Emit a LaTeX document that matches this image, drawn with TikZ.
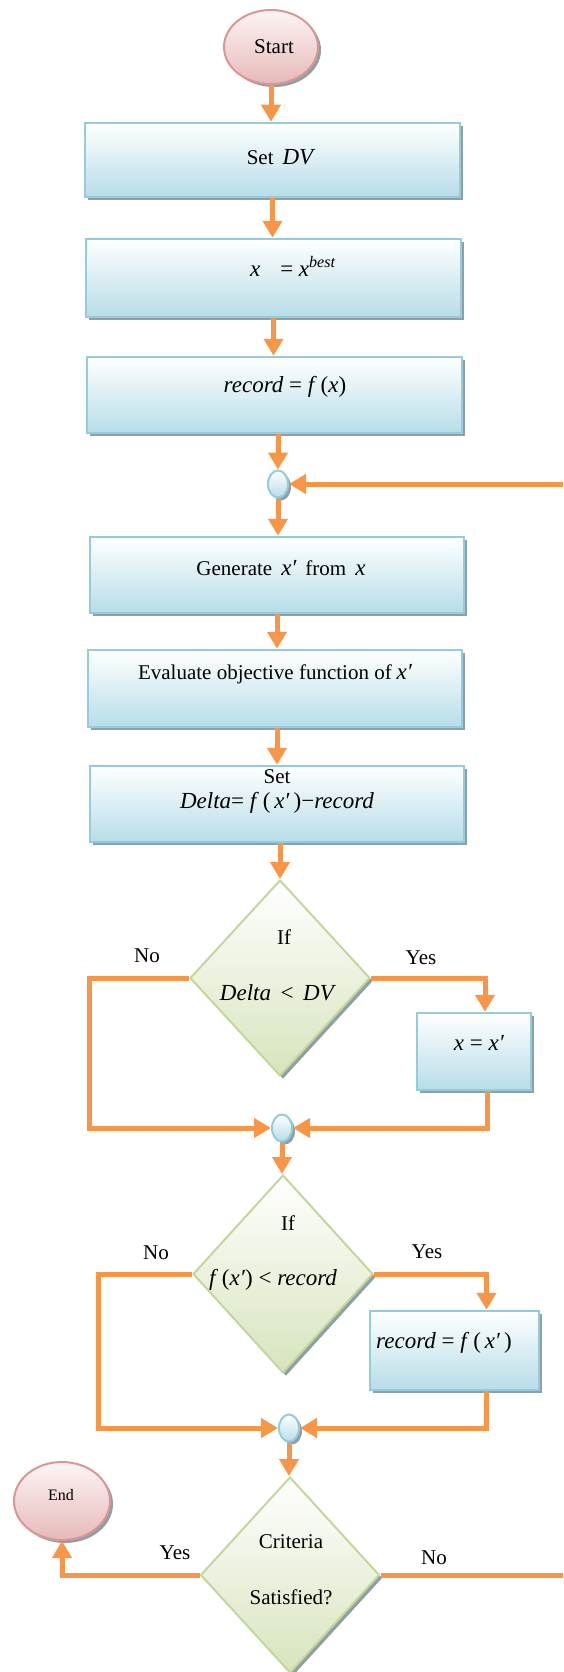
\documentclass[tikz,border=0pt]{standalone}
\usepackage{fontspec}
\setmainfont{Liberation Serif}
\usetikzlibrary{shapes.geometric,arrows.meta,shadows}
\definecolor{connc}{HTML}{F79646}
\definecolor{boxedge}{HTML}{93CDDD}
\definecolor{boxfill}{HTML}{B7DDE8}
\definecolor{dedge}{HTML}{C3D69B}
\definecolor{dfill}{HTML}{D7E4BD}
\definecolor{tedge}{HTML}{D99694}
\definecolor{tfill}{HTML}{E6B9B8}
\definecolor{tfilltop}{HTML}{FDF5F5}
\definecolor{shadowc}{HTML}{8E9FA5}
\newcommand\mvar[1]{{\fontsize{23}{24}\selectfont\itshape #1}}
\tikzset{
  orangeline/.style={draw=connc, line width=5pt, line join=miter},
  arr/.style={orangeline, -{Triangle[width=19pt,length=17pt]}},
  shad/.style={drop shadow={shadow xshift=3pt, shadow yshift=-3pt, fill=shadowc, opacity=1}},
  procbox/.style={rectangle, draw=boxedge, line width=2.5pt, top color=white, bottom color=boxfill, inner sep=0pt, shad},
  decbox/.style={diamond, draw=dedge, line width=2pt, top color=white, bottom color=dfill, inner sep=0pt, shad},
  termbox/.style={ellipse, draw=tedge, line width=2pt, top color=tfilltop, bottom color=tfill, inner sep=0pt, shad},
  joinc/.style={ellipse, draw=boxedge, line width=2pt, top color=white, bottom color=boxfill, minimum width=20pt, minimum height=27pt, inner sep=0pt, shad},
  lbl/.style={font=\fontsize{21}{24}\selectfont, inner sep=0pt},
  mlbl/.style={font=\fontsize{23}{26}\selectfont, inner sep=0pt}
}
\begin{document}
\begin{tikzpicture}[x=1pt,y=-1pt]
\useasboundingbox (0,0) rectangle (563,1672);
% shapes
\node[termbox, minimum width=94pt, minimum height=74pt] (start) at (271,47) {};
\node[procbox, minimum width=375pt, minimum height=74pt] (b1) at (272.5,160) {};
\node[procbox, minimum width=375pt, minimum height=78pt] (b2) at (273.5,278) {};
\node[procbox, minimum width=375pt, minimum height=76pt] (b3) at (274.5,395) {};
\node[joinc] (c1) at (278,484) {};
\node[procbox, minimum width=374pt, minimum height=76pt] (b4) at (277,575) {};
\node[procbox, minimum width=374pt, minimum height=77pt] (b5) at (275,688.5) {};
\node[procbox, minimum width=374pt, minimum height=76pt] (b6) at (277,804) {};
\node[decbox, minimum width=180pt, minimum height=196pt] (d1) at (280,978) {};
\node[procbox, minimum width=114pt, minimum height=77pt] (bA) at (474,1051.5) {};
\node[joinc] (c2) at (282,1128) {};
\node[decbox, minimum width=180pt, minimum height=198pt] (d2) at (283,1274) {};
\node[procbox, minimum width=169pt, minimum height=79pt] (bB) at (454.5,1350.5) {};
\node[joinc] (c3) at (289,1428) {};
\node[decbox, minimum width=179pt, minimum height=196pt] (d3) at (290,1575) {};
\node[termbox, minimum width=96pt, minimum height=78pt] (end) at (62,1501) {};
% texts
\node[lbl] (tstart) at (274,47) {Start};
\node[lbl] (t1) at (280,157) {Set\hspace{9pt}\mvar{DV}};
\node[mlbl] (t2) at (293,266) {\textit{x}\hspace{20pt}= \textit{x}\textsuperscript{\textit{best}}};
\node[mlbl] (t3) at (285,387) {\textit{record} = \textit{f}\,(\textit{x})};
\node[lbl] (t4) at (281,568) {Generate\hspace{9pt}\mvar{x′}\hspace{9pt}from\hspace{9pt}\mvar{x}};
\node[lbl] (t5) at (275,674) {Evaluate objective function of\hspace{5pt}\mvar{x′}};
\node[lbl] (t6a) at (277,777) {Set};
\node[mlbl] (t6b) at (277,803) {\textit{Delta}= \textit{f}\,(\,\textit{x′}\,)−\textit{record}};
\node[lbl] (t7a) at (284,937) {If};
\node[mlbl] (t7b) at (278,993) {\textit{Delta}\, < \,\textit{DV}};
\node[lbl] (no1) at (147,956) {No};
\node[lbl] (yes1) at (421,958) {Yes};
\node[mlbl] (tA) at (479,1043) {\textit{x} = \textit{x′}};
\node[lbl] (t8a) at (288,1223) {If};
\node[mlbl] (t8b) at (273,1280) {\textit{f}\,(\textit{x′}) < \textit{record}};
\node[lbl] (no2) at (156,1253) {No};
\node[lbl] (yes2) at (427,1252) {Yes};
\node[mlbl] (tB) at (444,1343) {\textit{record} = \textit{f}\,(\,\textit{x′}\,)};
\node[lbl, font=\fontsize{16}{18}\selectfont] (tend) at (61,1495) {End};
\node[lbl] (t9a) at (291,1542) {Criteria};
\node[lbl] (t9b) at (291,1597) {Satisfied?};
\node[lbl] (yes3) at (175,1553) {Yes};
\node[lbl] (no3) at (434,1558) {No};
% connectors
\coordinate (loopin) at (563,484);
\coordinate (exitno) at (563,1575);
\draw[arr] (start.south) -- (start.south |- b1.north);
\draw[arr] (b1.south) -- (b1.south |- b2.north);
\draw[arr] (b2.south) -- (b2.south |- b3.north);
\draw[arr] (c1.north |- b3.south) -- (c1.north);
\draw[arr] (loopin) -- (c1.east);
\draw[arr] (c1.south) -- (c1.south |- b4.north);
\draw[arr] (b4.south) -- (b4.south |- b5.north);
\draw[arr] (b6.north |- b5.south) -- (b6.north);
\draw[arr] (d1.north |- b6.south) -- (d1.north);
\draw[arr] (d1.east) -| ([xshift=11pt]bA.north);
\draw[arr] ([xshift=13pt]bA.south) |- (c2.east);
\draw[arr] (d1.west) -- ++(-100,0) |- (c2.west);
\draw[arr] (c2.south) -- (c2.south |- d2.north);
\draw[arr] (d2.east) -| ([xshift=32pt]bB.north);
\draw[arr] (d2.west) -- ++(-94,0) |- (c3.west);
\draw[arr] ([xshift=32pt]bB.south) |- (c3.east);
\draw[arr] (c3.south) -- (c3.south |- d3.north);
\draw[arr] (d3.west) -| (end.south);
\draw[orangeline] (d3.east) -- (exitno);
\end{tikzpicture}
\end{document}
